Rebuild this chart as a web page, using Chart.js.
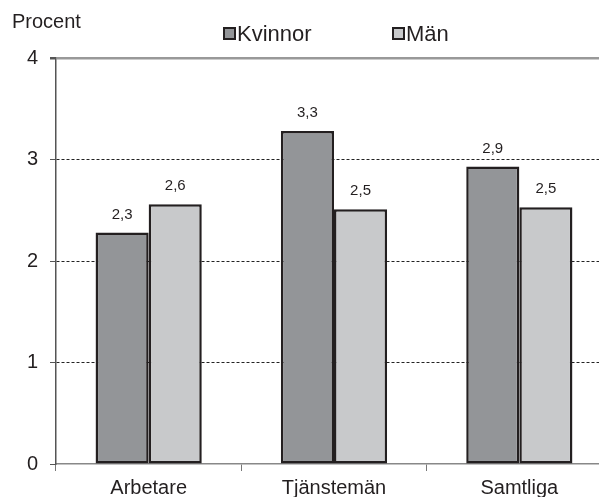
<!DOCTYPE html>
<html>
<head>
<meta charset="utf-8">
<script src="https://cdn.jsdelivr.net/npm/chart.js@4/dist/chart.umd.min.js"></script>
<style>
  html, body { margin: 0; padding: 0; background: #fff; overflow: hidden; }
  #wrap { width: 599px; height: 497px; overflow: hidden; }
</style>
</head>
<body>
<div id="wrap"><canvas id="chart" width="625" height="497"></canvas></div>
<script>
// Data
const categories = ['Arbetare', 'Tjänstemän', 'Samtliga'];
const kvinnor = [2.28, 3.28, 2.93];
const man = [2.56, 2.51, 2.53];
const seriesNames = ['Kvinnor', 'Män'];
const yTicks = [0, 1, 2, 3, 4];

const fontFam = 'Arial, "Liberation Sans", sans-serif';
const ink = '#231f20';
const colKvinnor = '#939598';
const colMan = '#c8c9cb';

// etiketter ovanför staplarna + legend + "Procent"
const extras = {
    id: 'extras',
    afterDatasetsDraw(chart) {
        const ctx = chart.ctx;
        ctx.save();
        ctx.fillStyle = ink;
        ctx.font = '15px ' + fontFam;
        ctx.textAlign = 'center';
        ctx.textBaseline = 'alphabetic';
        chart.data.datasets.forEach((ds, di) => {
            chart.getDatasetMeta(di).data.forEach((bar, i) => {
                const txt = ds.data[i].toFixed(1).replace('.', ',');
                ctx.fillText(txt, bar.x, bar.y - 14);
            });
        });

        // Procent
        ctx.textAlign = 'left';
        ctx.textBaseline = 'alphabetic';
        ctx.font = '20px ' + fontFam;
        ctx.fillText('Procent', 12, 28);

        // legend
        const items = [
            { name: seriesNames[0], color: colKvinnor, x: 223 },
            { name: seriesNames[1], color: colMan, x: 392 }
        ];
        ctx.font = '22px ' + fontFam;
        items.forEach(it => {
            ctx.fillStyle = it.color;
            ctx.fillRect(it.x + 1, 28, 11, 11);
            ctx.strokeStyle = ink;
            ctx.lineWidth = 2;
            ctx.strokeRect(it.x + 1, 28, 11, 11);
            ctx.fillStyle = ink;
            ctx.fillText(it.name, it.x + 14, 41);
        });
        ctx.restore();
    }
};

new Chart(document.getElementById('chart'), {
    type: 'bar',
    data: {
        labels: categories,
        datasets: [
            {
                label: seriesNames[0],
                data: kvinnor,
                backgroundColor: colKvinnor,
                borderColor: ink,
                borderWidth: 2.5,
                borderSkipped: false
            },
            {
                label: seriesNames[1],
                data: man,
                backgroundColor: colMan,
                borderColor: ink,
                borderWidth: 2.5,
                borderSkipped: false
            }
        ]
    },
    options: {
        responsive: false,
        animation: false,
        layout: { padding: { top: 58, right: 13, left: 0, bottom: 0 } },
        datasets: { bar: { categoryPercentage: 0.573, barPercentage: 1 } },
        plugins: {
            legend: { display: false },
            tooltip: { enabled: false }
        },
        scales: {
            x: {
                grid: {
                    drawOnChartArea: false,
                    drawTicks: true,
                    tickLength: 7,
                    color: '#777',
                    offset: true
                },
                border: { color: '#888', width: 1.5 },
                ticks: {
                    color: ink,
                    font: { size: 20, family: fontFam },
                    padding: 5
                },
                afterFit: s => { s.height = 33; }
            },
            y: {
                min: 0,
                max: 4,
                afterBuildTicks: s => { s.ticks = yTicks.map(v => ({ value: v })); },
                ticks: {
                    color: ink,
                    font: { size: 20, family: fontFam },
                    padding: 12
                },
                grid: {
                    color: c => c.tick.value === 0 ? 'rgba(0,0,0,0)' : (c.tick.value === 4 ? '#999' : '#222'),
                    lineWidth: c => c.tick.value === 4 ? 2.5 : 1,
                    tickColor: '#555',
                    tickLength: 6,
                    tickBorderDash: []
                },
                border: {
                    color: '#555',
                    width: 1.5,
                    dash: c => c.tick && c.tick.value === 4 ? [] : [3, 2]
                },
                afterFit: s => { s.width = 56; }
            }
        }
    },
    plugins: [extras]
});
</script>
</body>
</html>
